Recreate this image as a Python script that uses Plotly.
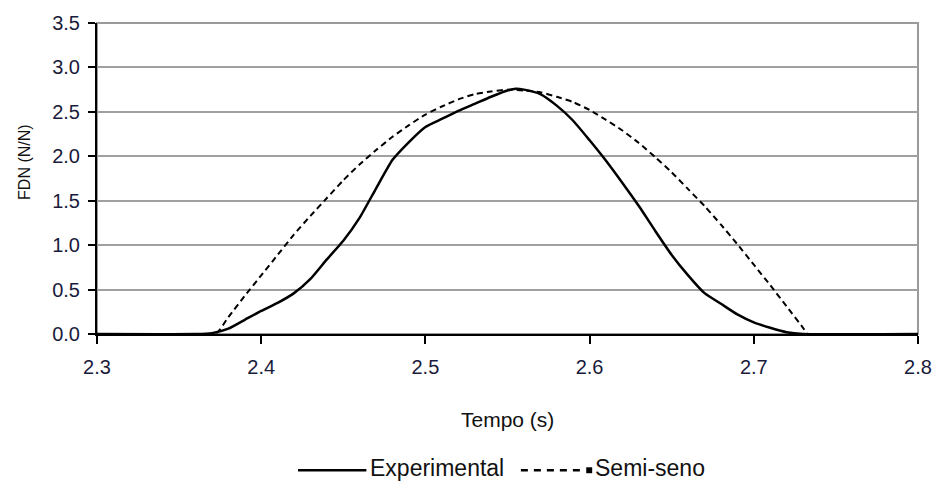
import plotly.graph_objects as go

# Tempo (s) sample points and normalised force for the measured curve
tempo_exp = [2.30, 2.36, 2.37, 2.38, 2.39, 2.40, 2.41, 2.42, 2.43, 2.44, 2.45,
             2.46, 2.47, 2.48, 2.49, 2.50, 2.51, 2.52, 2.53, 2.54, 2.55, 2.555,
             2.56, 2.57, 2.58, 2.59, 2.60, 2.61, 2.62, 2.63, 2.64, 2.65, 2.66,
             2.67, 2.68, 2.69, 2.70, 2.71, 2.72, 2.73, 2.80]
fdn_exp = [0.0, 0.0, 0.01, 0.06, 0.16, 0.26, 0.35, 0.46, 0.62, 0.84, 1.05,
           1.31, 1.64, 1.96, 2.16, 2.33, 2.42, 2.51, 2.59, 2.67, 2.74, 2.76,
           2.75, 2.70, 2.57, 2.40, 2.18, 1.95, 1.70, 1.44, 1.16, 0.89, 0.66,
           0.46, 0.34, 0.22, 0.13, 0.07, 0.02, 0.0, 0.0]

# Half-sine approximation of the same pulse
tempo_sen = [2.30, 2.372, 2.38, 2.39, 2.40, 2.41, 2.42, 2.43, 2.44, 2.45, 2.46,
             2.47, 2.48, 2.49, 2.50, 2.51, 2.52, 2.53, 2.54, 2.55, 2.56, 2.57,
             2.58, 2.59, 2.60, 2.61, 2.62, 2.63, 2.64, 2.65, 2.66, 2.67, 2.68,
             2.69, 2.70, 2.71, 2.72, 2.73, 2.733, 2.80]
fdn_sen = [0.0, 0.0, 0.19, 0.43, 0.66, 0.89, 1.12, 1.33, 1.53, 1.73, 1.91,
           2.07, 2.22, 2.35, 2.47, 2.56, 2.64, 2.70, 2.73, 2.75, 2.74, 2.72,
           2.67, 2.61, 2.52, 2.41, 2.29, 2.15, 1.99, 1.82, 1.63, 1.44, 1.23,
           1.01, 0.78, 0.55, 0.31, 0.07, 0.0, 0.0]

x_ticks = [2.3, 2.4, 2.5, 2.6, 2.7, 2.8]
y_ticks = [0.0, 0.5, 1.0, 1.5, 2.0, 2.5, 3.0, 3.5]

FONT = "Liberation Sans, Arial, sans-serif"
TICK_COLOR = "#1a1a3a"

fig = go.Figure()
fig.add_trace(go.Scatter(x=tempo_sen, y=fdn_sen, mode="lines", name="Semi-seno",
                         line=dict(color="black", width=2, dash="6px,4px",
                                   shape="spline", smoothing=0.5),
                         showlegend=False))
fig.add_trace(go.Scatter(x=tempo_exp, y=fdn_exp, mode="lines", name="Experimental",
                         line=dict(color="black", width=2.5,
                                   shape="spline", smoothing=0.5),
                         showlegend=False))

L, R, T, B = 97, 18, 19, 156
W, H = 944, 490
pw, ph = W - L - R, H - T - B


def px(x):
    return (x - L) / pw


def py(y):
    return (H - B - y) / ph


# plot frame (grey top/right edges)
fig.add_shape(type="rect", xref="paper", yref="paper", x0=0, x1=1, y0=0, y1=1,
              line=dict(color="#9a9a9a", width=2), layer="below")

# x-axis title
fig.add_annotation(xref="paper", yref="paper", x=0.5, y=py(421),
                   text="Tempo (s)", showarrow=False, xanchor="center",
                   yanchor="middle", font=dict(family=FONT, size=21, color="#111"))
# y-axis title
fig.add_annotation(xref="paper", yref="paper", x=px(23), y=py(160),
                   text="FDN (N/N)", showarrow=False, textangle=-90,
                   xanchor="center", yanchor="middle",
                   font=dict(family=FONT, size=16, color="#111"))

# legend drawn beneath the chart
ly = 470
fig.add_shape(type="line", xref="paper", yref="paper",
              x0=px(300), x1=px(369), y0=py(ly + 2), y1=py(ly + 2),
              line=dict(color="black", width=2.5))
fig.add_annotation(xref="paper", yref="paper", x=px(371), y=py(ly),
                   text="Experimental", showarrow=False, xanchor="left",
                   yanchor="middle", font=dict(family=FONT, size=23, color="#111"))
fig.add_shape(type="line", xref="paper", yref="paper",
              x0=px(525), x1=px(590), y0=py(ly + 2), y1=py(ly + 2),
              line=dict(color="black", width=2.5, dash="7px,6px"))
fig.add_shape(type="rect", xref="paper", yref="paper",
              x0=px(591), x1=px(597), y0=py(ly + 5), y1=py(ly - 1),
              line=dict(width=0), fillcolor="black")
fig.add_annotation(xref="paper", yref="paper", x=px(598), y=py(ly),
                   text="Semi-seno", showarrow=False, xanchor="left",
                   yanchor="middle", font=dict(family=FONT, size=23, color="#111"))

fig.update_layout(
    width=W, height=H,
    margin=dict(l=L, r=R, t=T, b=B),
    paper_bgcolor="white", plot_bgcolor="white",
    font=dict(family=FONT, color="#111"),
    showlegend=False,
)
fig.update_xaxes(
    range=[2.3, 2.8], tickvals=x_ticks, ticktext=[f"{v:.1f}" for v in x_ticks],
    showgrid=False, zeroline=False,
    showline=True, linecolor="black", linewidth=2,
    ticks="outside", ticklen=8, tickwidth=2, tickcolor="black",
    ticklabelstandoff=6,
    tickfont=dict(family=FONT, size=20, color=TICK_COLOR),
)
fig.update_yaxes(
    range=[0, 3.5], tickvals=y_ticks, ticktext=[f"{v:.1f}" for v in y_ticks],
    showgrid=True, gridcolor="#a0a0a0", gridwidth=2, zeroline=False,
    showline=True, linecolor="black", linewidth=2,
    ticks="outside", ticklen=7, tickwidth=2, tickcolor="black",
    ticklabelstandoff=4,
    tickfont=dict(family=FONT, size=20, color=TICK_COLOR),
)

fig.write_html("out.html")
